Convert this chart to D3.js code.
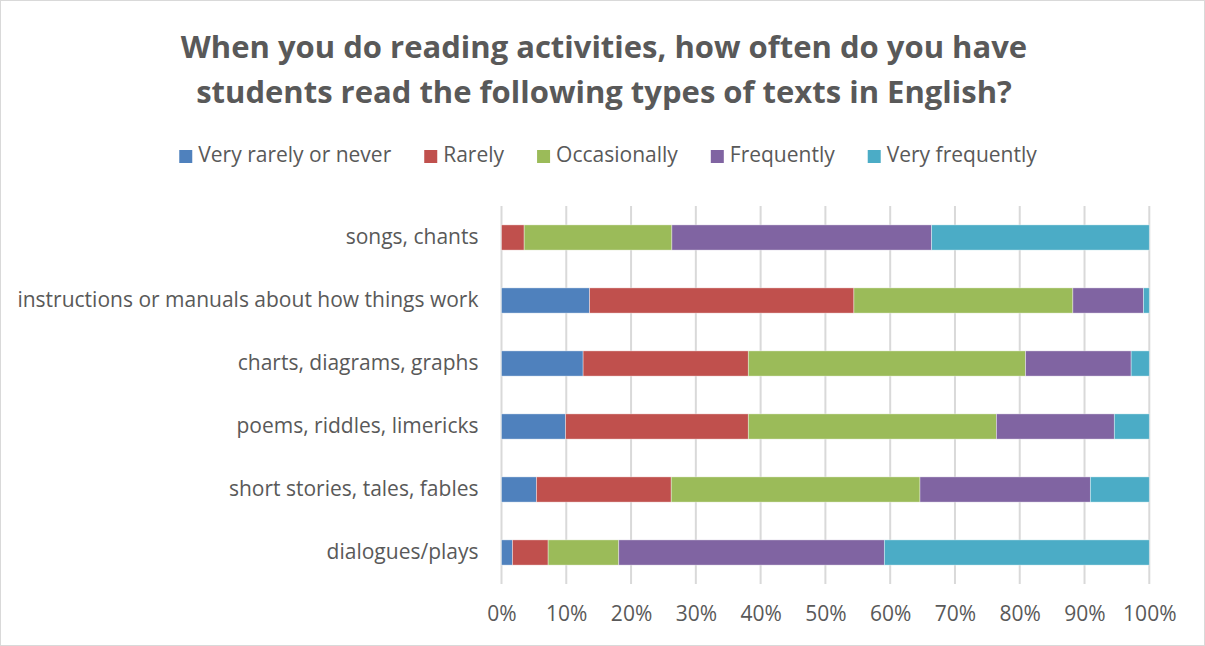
<!DOCTYPE html>
<html>
<head>
<meta charset="utf-8">
<script src="https://cdn.jsdelivr.net/npm/d3@7"></script>
<style>
  html, body { margin: 0; padding: 0; background: #fff; }
  svg { display: block; font-family: "Open Sans", "Liberation Sans", Arial, sans-serif; }
</style>
</head>
<body>
<svg id="chart" width="1205" height="646"></svg>
<script>
// Survey responses (% of teachers), one row per text type, top to bottom
const categories = [
  "songs, chants",
  "instructions or manuals about how things work",
  "charts, diagrams, graphs",
  "poems, riddles, limericks",
  "short stories, tales, fables",
  "dialogues/plays"
];
const seriesNames = ["Very rarely or never", "Rarely", "Occasionally", "Frequently", "Very frequently"];
const veryRarely   = [0.0, 13.6, 12.6,  9.9,  5.4,  1.7];
const rarely       = [3.5, 40.8, 25.5, 28.2, 20.8,  5.5];
const occasionally = [22.8, 33.8, 42.8, 38.3, 38.4, 10.9];
const frequently   = [40.1, 10.9, 16.3, 18.2, 26.3, 41.0];
const veryFreq     = [33.6,  0.9,  2.8,  5.4,  9.1, 40.9];
const xTicks = [0, 10, 20, 30, 40, 50, 60, 70, 80, 90, 100];
const colors = ["#4F81BD", "#C0504D", "#9BBB59", "#8064A2", "#4BACC6"];

const seriesValues = [veryRarely, rarely, occasionally, frequently, veryFreq];
const rows = categories.map((c, i) => {
  const r = { cat: c };
  seriesNames.forEach((s, j) => r[s] = seriesValues[j][i]);
  return r;
});
const stacked = d3.stack().keys(seriesNames)(rows);

const svg = d3.select("#chart");
const W = 1205, H = 646;
const textColor = "#595959";
const font = "'Open Sans', 'Liberation Sans', Arial, sans-serif";

// chart border
svg.append("rect").attr("x", 0.5).attr("y", 0.5).attr("width", W - 1).attr("height", H - 1)
  .attr("fill", "#fff").attr("stroke", "#d9d9d9");

const margin = { left: 501.5, right: W - 1149.3, top: 206, bottom: H - 584 };
const x = d3.scaleLinear().domain([0, 100]).range([margin.left, W - margin.right]);
const y = d3.scaleBand().domain(categories).range([margin.top, H - margin.bottom]).paddingInner(0.6).paddingOuter(0.3);

// title
const title = svg.append("text").attr("text-anchor", "middle").attr("fill", textColor)
  .style("font-weight", "bold").style("font-size", "31px");
title.append("tspan").attr("x", 604).attr("y", 58).text("When you do reading activities, how often do you have");
title.append("tspan").attr("x", 604).attr("y", 103).text("students read the following types of texts in English?");

// gridlines
svg.append("g").selectAll("line").data(xTicks).join("line")
  .attr("x1", d => x(d)).attr("x2", d => x(d))
  .attr("y1", margin.top).attr("y2", H - margin.bottom)
  .attr("stroke", "#d9d9d9").attr("stroke-width", 2);

// stacked bars
svg.append("g").selectAll("g").data(stacked).join("g")
  .attr("fill", (d, i) => colors[i])
  .selectAll("rect").data(d => d).join("rect")
  .attr("x", d => x(d[0]))
  .attr("width", d => Math.max(0, x(d[1]) - x(d[0])))
  .attr("y", d => y(d.data.cat))
  .attr("height", y.bandwidth())
  .attr("stroke", "#ffffff").attr("stroke-opacity", 0.5).attr("stroke-width", 0.75);

// x axis
const xAxis = svg.append("g").attr("transform", `translate(0,${H - margin.bottom})`)
  .call(d3.axisBottom(x).tickValues(xTicks).tickFormat(d => d + "%").tickSize(0).tickPadding(22));
xAxis.select(".domain").remove();
xAxis.selectAll("text").attr("fill", textColor).style("font-size", "21px").style("font-family", font);

// y axis
const yAxis = svg.append("g").attr("transform", `translate(${margin.left},0)`)
  .call(d3.axisLeft(y).tickSize(0).tickPadding(23));
yAxis.select(".domain").remove();
yAxis.selectAll("text").attr("fill", textColor).style("font-size", "21px").style("font-family", font);

// legend
const legend = svg.append("g");
const items = legend.selectAll("g").data(seriesNames).join("g");
items.append("rect").attr("width", 13).attr("height", 13).attr("y", -12)
  .attr("fill", (d, i) => colors[i]);
items.append("text").attr("x", 19).attr("fill", textColor).style("font-size", "21px").text(d => d);
let cx = 0;
const gap = 33;
items.each(function () {
  const g = d3.select(this);
  g.attr("transform", `translate(${cx},162)`);
  cx += 19 + g.select("text").node().getComputedTextLength() + gap;
});
const total = cx - gap;
legend.attr("transform", `translate(${608 - total / 2},0)`);
</script>
</body>
</html>
